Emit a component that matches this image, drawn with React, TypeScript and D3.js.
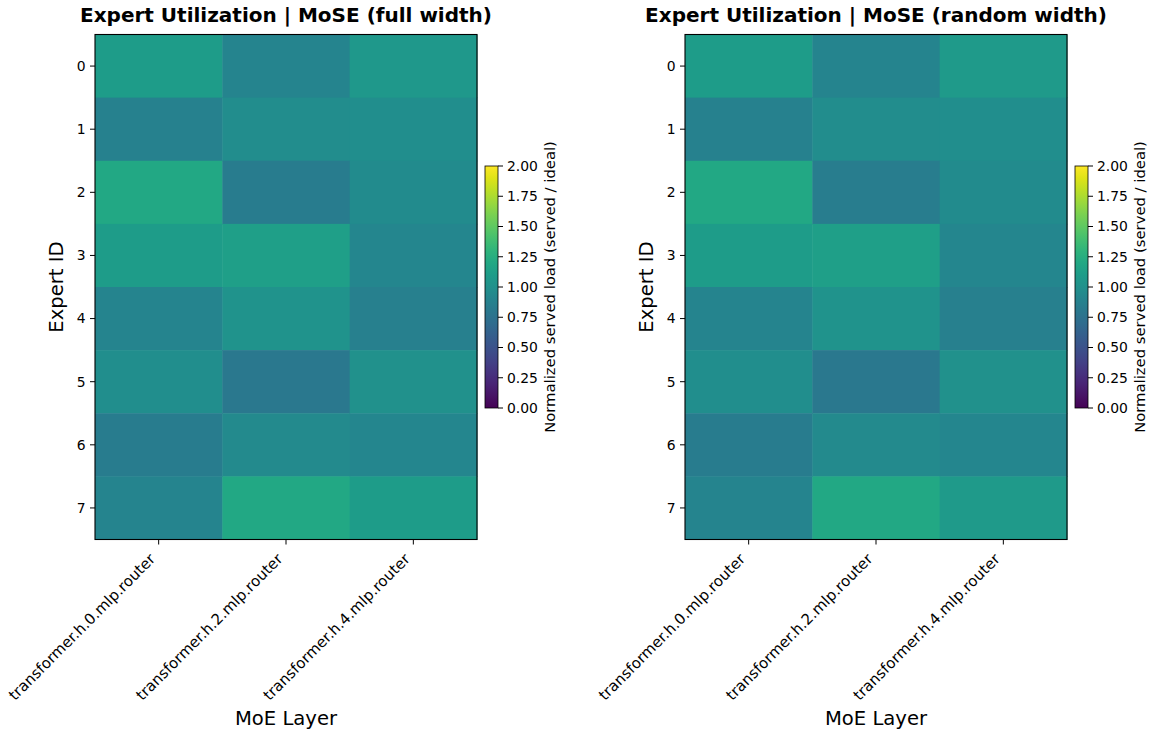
import React from 'react'
import * as d3 from 'd3'

const width = 1151
const height = 733

const layers = ['transformer.h.0.mlp.router', 'transformer.h.2.mlp.router', 'transformer.h.4.mlp.router']
const experts = [0, 1, 2, 3, 4, 5, 6, 7]
const cbTicks = [0, 0.25, 0.5, 0.75, 1.0, 1.25, 1.5, 1.75, 2.0]

// rows = experts, cols = layers
const fullWidth = [
  [1.1, 0.9, 1.07],
  [0.87, 0.97, 0.98],
  [1.2, 0.83, 0.96],
  [1.1, 1.12, 0.92],
  [0.9, 1.03, 0.86],
  [0.98, 0.8, 1.0],
  [0.83, 0.95, 0.92],
  [0.9, 1.2, 1.1],
]
const randomWidth = [
  [1.1, 0.9, 1.08],
  [0.87, 0.97, 0.98],
  [1.2, 0.84, 0.96],
  [1.1, 1.12, 0.92],
  [0.9, 1.03, 0.86],
  [0.98, 0.8, 1.0],
  [0.83, 0.95, 0.92],
  [0.9, 1.2, 1.08],
]

const font = 'DejaVu Sans, sans-serif'
const color = d3.scaleSequential(d3.interpolateViridis).domain([0, 2])

type PanelProps = { left: number; title: string; values: number[][]; gid: string }

const Panel = ({ left, title, values, gid }: PanelProps) => {
  const top = 34.5
  const bottom = 539.5
  const right = left + 382
  const x = d3.scaleBand<string>().domain(layers).range([left, right])
  const y = d3.scaleBand<number>().domain(experts).range([top, bottom])
  const cbX = right + 8
  const cbW = 13
  const cb = d3.scaleLinear().domain([0, 2]).range([408, 166])
  const midX = (left + right) / 2
  const stops = d3.range(0, 1.0001, 0.05)

  return (
    <g>
      <text x={midX} y={22} textAnchor="middle" fontWeight="bold" fontSize={20} fontFamily={font}>{title}</text>
      {values.map((row, i) =>
        row.map((v, j) => (
          <rect key={`${i}-${j}`} x={x(layers[j])} y={y(experts[i])} width={x.bandwidth() + 0.5} height={y.bandwidth() + 0.5} fill={color(v)} />
        ))
      )}
      <rect x={left} y={top} width={right - left} height={bottom - top} fill="none" stroke="#000" strokeWidth={1.1} />
      {experts.map(e => (
        <g key={e} transform={`translate(${left},${y(e)! + y.bandwidth() / 2})`}>
          <line x1={-5} x2={0} stroke="#000" />
          <text x={-9.5} dy="0.35em" textAnchor="end" fontSize={13.9} fontFamily={font}>{e}</text>
        </g>
      ))}
      {layers.map(l => {
        const cx = x(l)! + x.bandwidth() / 2
        return (
          <g key={l}>
            <line x1={cx} x2={cx} y1={bottom} y2={bottom + 5} stroke="#000" />
            <text transform={`translate(${cx - 2.5},${bottom + 20.5}) rotate(-45)`} textAnchor="end" fontSize={15} fontFamily={font}>{l}</text>
          </g>
        )
      })}
      <text transform={`translate(${left - 32},${(top + bottom) / 2}) rotate(-90)`} textAnchor="middle" fontSize={19.6} fontFamily={font}>Expert ID</text>
      <text x={midX} y={725} textAnchor="middle" fontSize={19.6} fontFamily={font}>MoE Layer</text>

      <defs>
        <linearGradient id={gid} x1="0" y1="1" x2="0" y2="0">
          {stops.map(s => (
            <stop key={s} offset={s} stopColor={color(s * 2)} />
          ))}
        </linearGradient>
      </defs>
      <rect x={cbX} y={166} width={cbW} height={242} fill={`url(#${gid})`} stroke="#000" strokeWidth={0.8} />
      {cbTicks.map(t => (
        <g key={t} transform={`translate(${cbX + cbW},${cb(t)})`}>
          <line x1={0} x2={5} stroke="#000" />
          <text x={9} dy="0.35em" fontSize={13.9} fontFamily={font}>{t.toFixed(2)}</text>
        </g>
      ))}
      <text transform={`translate(${cbX + 70},${287}) rotate(-90)`} textAnchor="middle" fontSize={14.8} fontFamily={font}>Normalized served load (served / ideal)</text>
    </g>
  )
}

const App = () => {
  return (
    <svg width={width} height={height} style={{ position: 'absolute', left: 0, top: 0, background: '#fff' }}>
      <Panel left={95} title="Expert Utilization | MoSE (full width)" values={fullWidth} gid="cb1" />
      <Panel left={685} title="Expert Utilization | MoSE (random width)" values={randomWidth} gid="cb2" />
    </svg>
  )
}

export default App
